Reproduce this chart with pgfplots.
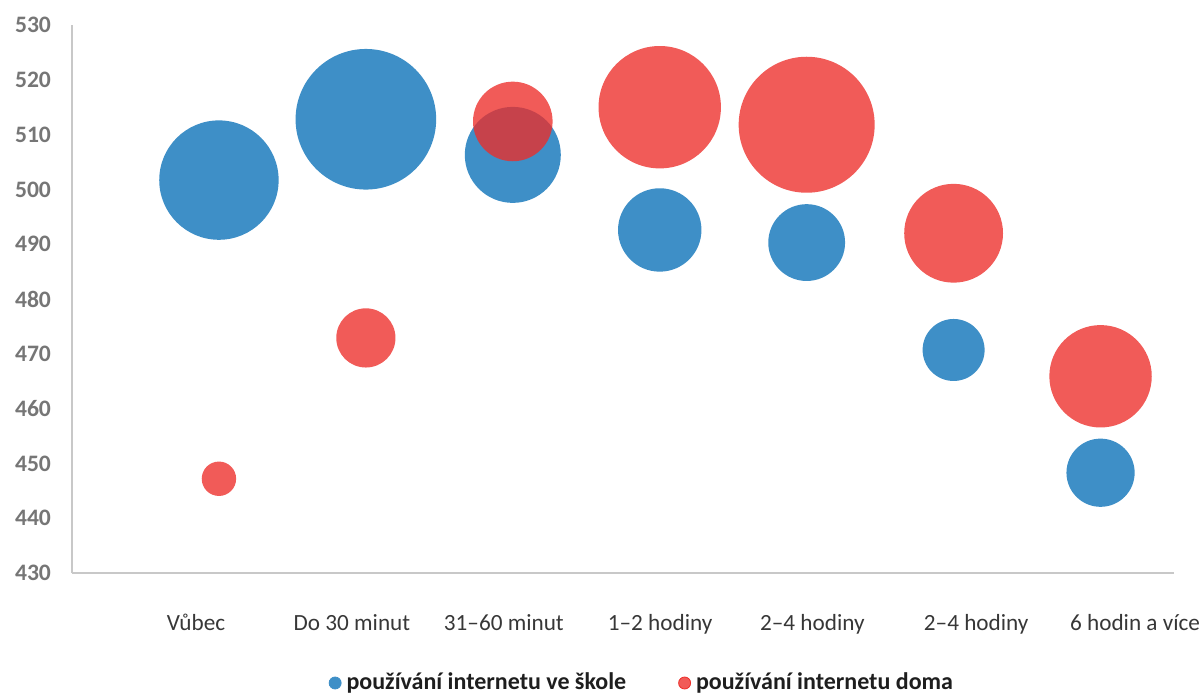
\documentclass[border=0pt]{standalone}
\usepackage{fontspec}
\setmainfont{Carlito}
\usepackage{pgfplots}
\pgfplotsset{compat=1.18}
\definecolor{myblue}{RGB}{62,143,199}
\definecolor{myred}{RGB}{237,45,41}
\definecolor{axgray}{RGB}{200,200,200}
\definecolor{xlab}{RGB}{55,55,55}
\definecolor{ylab}{RGB}{118,118,118}
\definecolor{leg}{RGB}{30,30,30}
\begin{document}
\begin{tikzpicture}
\path[use as bounding box] (-36pt,-60pt) rectangle (565pt,286.5pt);
\begin{axis}[
 scale only axis, width=551pt, height=274pt,
 xmin=0, xmax=7.5, ymin=430, ymax=530,
 axis x line=bottom, axis y line=left,
 axis line style={draw=axgray, line width=0.9pt, -},
 ytick={430,440,...,530},
 xtick={0.844,1.905,2.939,4.003,5.039,6.154,7.235},
 xticklabels={Vůbec, Do 30 minut, 31–60 minut, 1–2 hodiny, 2–4 hodiny, 2–4 hodiny, 6 hodin a více},
 major tick length=0pt,
 tick style={draw=none},
 xticklabel style={anchor=base, yshift=-28.5pt, font=\fontsize{11.6}{14}\selectfont, text=xlab},
 yticklabel style={anchor=east, xshift=-7pt, font=\fontsize{11.8}{14}\selectfont\bfseries, text=ylab},
 /pgf/number format/assume math mode=true,
 clip=false,
 legend columns=2,
 legend cell align=left,
 legend style={draw=none, fill=none, at={(0.518,-0.2007)}, anchor=center,
   font=\fontsize{12}{14}\selectfont\bfseries, text=leg,
   /tikz/every even column/.append style={column sep=24pt}},
]
\addplot[scatter, only marks, mark=*, color=myblue,
  mark options={fill=myblue, draw opacity=0},
  scatter/use mapped color={fill=myblue, draw opacity=0},
  visualization depends on={\thisrow{r} \as \rad},
  scatter/@pre marker code/.append style={/tikz/mark size=\rad},
  legend image code/.code={\fill[myblue] (0pt,0pt) circle (3pt); \path (3.5pt,0pt);}
] table {
x y r
1 501.7 29.85
2 512.8 35.15
3 506.3 24.0
4 492.6 20.85
5 490.3 19.2
6 470.7 15.5
7 448.3 17.05
};
\addlegendentry{používání internetu ve škole}
\addplot[scatter, only marks, mark=*, color=myred,
  mark options={fill=myred, fill opacity=0.78, draw opacity=0},
  scatter/use mapped color={fill=myred, fill opacity=0.78, draw opacity=0},
  visualization depends on={\thisrow{r} \as \rad},
  scatter/@pre marker code/.append style={/tikz/mark size=\rad},
  legend image code/.code={\fill[myred, fill opacity=0.78] (0pt,0pt) circle (3pt); \path (3.5pt,0pt);}
] table {
x y r
1 447.2 8.6
2 472.9 14.8
3 512.4 19.9
4 515.0 30.6
5 511.8 34.0
6 492.0 24.7
7 465.9 25.6
};
\addlegendentry{používání internetu doma}
\end{axis}
\end{tikzpicture}
\end{document}
